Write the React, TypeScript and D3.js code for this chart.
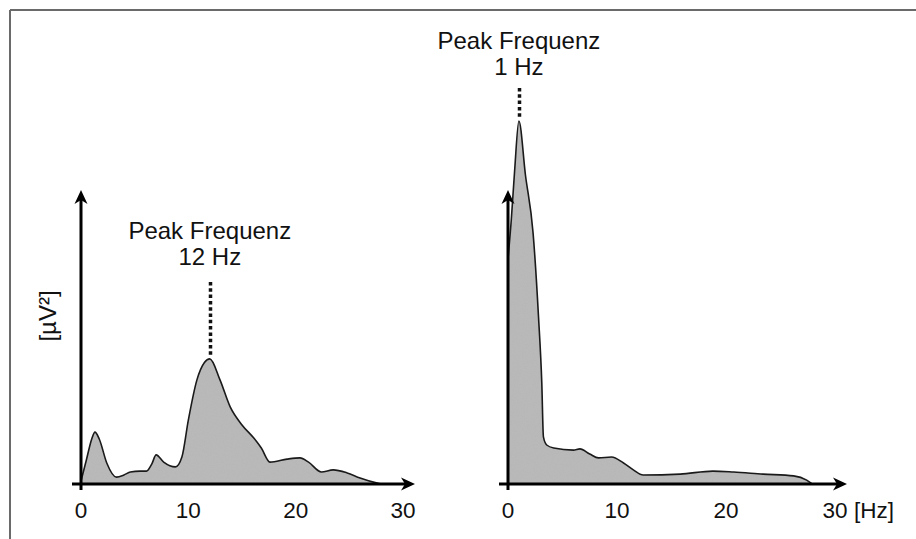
import React from "react";
import * as d3 from "d3";

// Power spectra (arbitrary units of µV²) over frequency in Hz
const leftFreq = [0, 0.5, 1.0, 1.3, 1.7, 2.4, 3.3, 4.0, 4.6, 5.5, 6.1, 6.6, 7.0, 7.7, 8.8, 9.4, 10.0, 10.8, 11.5, 12.0, 12.95, 13.9, 15.0, 16.1, 16.8, 17.6, 19.2, 20.4, 21.2, 22.4, 23.5, 24.8, 26.0, 27.6, 28.0];
const leftPower = [1, 8, 15, 17.3, 15, 7, 2.3, 3, 4, 4.3, 4.3, 6.7, 9.7, 7.3, 5.7, 9, 21.3, 34.7, 40.5, 41.7, 34.7, 25.7, 19.7, 15.3, 12, 7.3, 8.3, 8.7, 7.3, 4, 4.7, 3.7, 2, 0.3, 0];

const rightFreq = [0, 0.3, 0.6, 1.0, 1.6, 2.3, 2.8, 3.1, 3.25, 3.55, 4.2, 6.0, 6.6, 7.5, 8.3, 9.5, 10.6, 11.5, 12.4, 15.8, 18.8, 20.7, 23.4, 26.2, 27.4, 27.9];
const rightPower = [75, 88, 104, 121, 103, 83.7, 55.7, 33.7, 15.7, 13, 12, 11.3, 11.7, 10, 8.7, 9, 7, 4.7, 3, 3.3, 4.3, 4, 3.3, 2.7, 1.3, 0];

const tickValues = [0, 10, 20, 30];
const peakLeft = 12;
const peakRight = 1;
const peakTitle = "Peak Frequenz";
const unitLabel = "[Hz]";
const yLabel = "[µV²]";

const W = 916;
const H = 539;
const base = 484;
const font = "'Liberation Sans', Arial, sans-serif";

const y = d3.scaleLinear().domain([0, 100]).range([base, 184]);
const xL = d3.scaleLinear().domain([0, 30]).range([81, 403]);
const xR = d3.scaleLinear().domain([0, 30]).range([508, 835]);

function arrowRight(tipX: number, tipY: number) {
  return `M${tipX},${tipY} L${tipX - 14},${tipY - 6.5} L${tipX - 10},${tipY} L${tipX - 14},${tipY + 6.5} Z`;
}
function arrowUp(tipX: number, tipY: number) {
  return `M${tipX},${tipY} L${tipX - 6.5},${tipY + 14} L${tipX},${tipY + 10} L${tipX + 6.5},${tipY + 14} Z`;
}

function Spectrum({
  freq,
  power,
  x,
  peak,
  dotTop,
  labelY,
  unit,
}: {
  freq: number[];
  power: number[];
  x: d3.ScaleLinear<number, number>;
  peak: number;
  dotTop: number;
  labelY: number;
  unit?: string;
}) {
  const pts = freq.map((f, i) => [f, power[i]] as [number, number]);
  const area = d3
    .area<[number, number]>()
    .x((d) => x(d[0]))
    .y0(base)
    .y1((d) => y(d[1]))
    .curve(d3.curveMonotoneX);
  const line = d3
    .line<[number, number]>()
    .x((d) => x(d[0]))
    .y((d) => y(d[1]))
    .curve(d3.curveMonotoneX);
  const peakVal = power[freq.indexOf(peak)];
  const x0 = x(0);
  const xEnd = x(30) + 12;
  const px = Math.round(x(peak)) + 0.5;
  return (
    <g>
      <path d={area(pts) || ""} fill="#bababa" filter="url(#grain)" />
      <path d={line(pts) || ""} fill="none" stroke="#1a1a1a" strokeWidth={1.6} />
      {/* axes */}
      <line x1={x0 - 9} y1={base} x2={xEnd - 6} y2={base} stroke="#000" strokeWidth={3} />
      <path d={arrowRight(xEnd, base)} fill="#000" />
      <line x1={x0} y1={base + 6} x2={x0} y2={196} stroke="#000" strokeWidth={3} />
      <path d={arrowUp(x0, 190)} fill="#000" />
      {/* peak marker */}
      <line
        x1={px}
        x2={px}
        y1={dotTop}
        y2={y(peakVal) - 2}
        stroke="#111"
        strokeWidth={3.5}
        strokeDasharray="3.5,2.8"
      />
      <text x={x(peak)} y={labelY} textAnchor="middle" fontFamily={font} fontSize={24} fill="#111">
        {peakTitle}
      </text>
      <text x={x(peak)} y={labelY + 26} textAnchor="middle" fontFamily={font} fontSize={24} fill="#111">
        {`${peak} Hz`}
      </text>
      {tickValues.map((t) => (
        <text key={t} x={x(t)} y={518} textAnchor="middle" fontFamily={font} fontSize={22.5} fill="#111">
          {t}
        </text>
      ))}
      {unit && (
        <text x={x(30) + 19} y={518} textAnchor="start" fontFamily={font} fontSize={22.5} fill="#111">
          {unit}
        </text>
      )}
    </g>
  );
}

export default function App() {
  return (
    <svg
      width={W}
      height={H}
      style={{ position: "absolute", left: 0, top: 0, display: "block", background: "#fff" }}
    >
      <defs>
        <filter id="grain" x="0" y="0" width="100%" height="100%">
          <feTurbulence type="fractalNoise" baseFrequency="0.9" numOctaves={2} seed={3} result="noise" />
          <feColorMatrix
            in="noise"
            type="matrix"
            values="0 0 0 0 0.45  0 0 0 0 0.45  0 0 0 0 0.45  0 0 0 0.6 -0.1"
            result="dots"
          />
          <feComposite in="dots" in2="SourceGraphic" operator="in" result="clipped" />
          <feMerge>
            <feMergeNode in="SourceGraphic" />
            <feMergeNode in="clipped" />
          </feMerge>
        </filter>
      </defs>
      <rect x={0} y={0} width={W} height={H} fill="#fff" />
      {/* frame */}
      <line x1={10} y1={10} x2={W} y2={10} stroke="#6a6a6a" strokeWidth={2} />
      <line x1={10} y1={10} x2={10} y2={H} stroke="#6a6a6a" strokeWidth={2} />

      <Spectrum freq={leftFreq} power={leftPower} x={xL} peak={peakLeft} dotTop={282} labelY={239} />
      <Spectrum freq={rightFreq} power={rightPower} x={xR} peak={peakRight} dotTop={88} labelY={49} unit={unitLabel} />

      <text
        transform="translate(56,316) rotate(-90)"
        textAnchor="middle"
        fontFamily={font}
        fontSize={24}
        fill="#111"
      >
        {yLabel}
      </text>
    </svg>
  );
}
